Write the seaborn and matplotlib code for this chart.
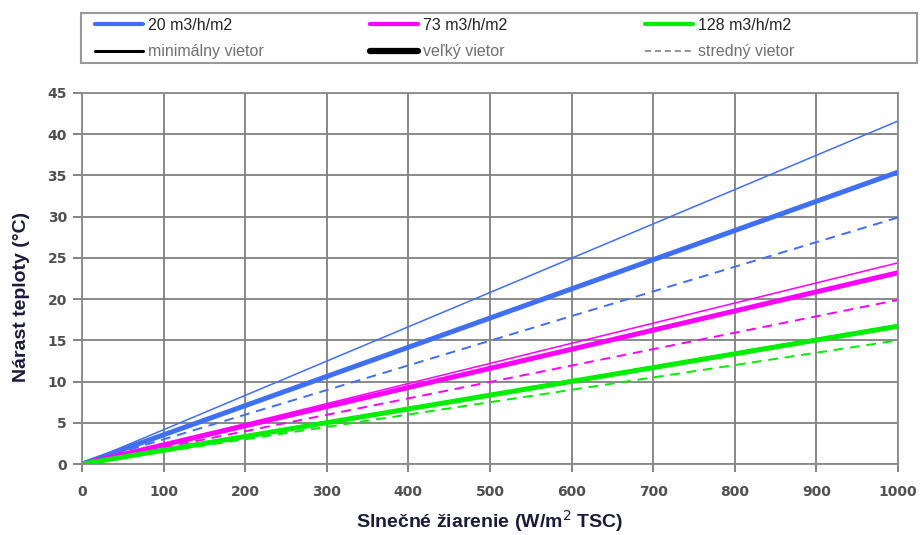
import matplotlib
matplotlib.use('Agg')
import matplotlib.pyplot as plt
from matplotlib.lines import Line2D
from matplotlib.patches import Rectangle
import seaborn as sns
import pandas as pd

sns.set_style('white')
plt.rcParams['font.family'] = ['Liberation Sans', 'DejaVu Sans']

# data (end points of straight lines)
irradiance = [0, 1000]
rates = ['20 m3/h/m2', '73 m3/h/m2', '128 m3/h/m2']
colors = ['#3f6ff2', '#ff00ff', '#00ee00']
min_wind = [41.6, 24.4, 16.9]   # minimálny vietor (thin)
big_wind = [35.4, 23.2, 16.7]   # veľký vietor (thick)
mid_wind = [29.9, 19.9, 15.0]   # stredný vietor (dashed)
wind_labels = ['minimálny vietor', 'veľký vietor', 'stredný vietor']

fig = plt.figure(figsize=(9.21, 5.35), dpi=100)
ax = fig.add_axes([0.089, 0.1327, 0.886, 0.6935])

for i, r in enumerate(rates):
    df = pd.DataFrame({'x': irradiance,
                       'min': [0, min_wind[i]],
                       'big': [0, big_wind[i]],
                       'mid': [0, mid_wind[i]]})
    sns.lineplot(data=df, x='x', y='mid', ax=ax, color=colors[i], lw=1.4,
                 linestyle=(0, (5, 3.5)))
    sns.lineplot(data=df, x='x', y='min', ax=ax, color=colors[i], lw=1.1)
    sns.lineplot(data=df, x='x', y='big', ax=ax, color=colors[i], lw=3.6)

ax.set_xlim(0, 1000)
ax.set_ylim(0, 45)
ax.set_xticks(range(0, 1001, 100))
ax.set_yticks(range(0, 46, 5))
ax.grid(True, color='#808080', lw=1.3)
ax.set_axisbelow(True)
for s in ax.spines.values():
    s.set_color('#8a8a8a')
    s.set_linewidth(1.3)
ax.tick_params(axis='both', direction='out', width=1.3, color='#7a7a7a',
               labelcolor='#505050', left=True, bottom=True)
ax.tick_params(axis='y', length=6.5, pad=4.3)
ax.tick_params(axis='x', length=6, pad=9)
for t in ax.get_xticklabels() + ax.get_yticklabels():
    t.set_fontfamily('DejaVu Sans')
    t.set_fontweight('bold')
    t.set_fontsize(10)

ax.set_xlabel('Slnečné žiarenie (W/m$^2$ TSC)', fontsize=14, fontweight='bold',
              color='#1a1a3a', labelpad=7)
ax.set_ylabel('Nárast teploty (°C)', fontsize=14, fontweight='bold',
              color='#1a1a3a')
ax.yaxis.set_label_coords(-0.064, 0.45)

# legend: three columns of two entries, inside one grey box
handles = [
    [Line2D([], [], color=colors[0], lw=3), Line2D([], [], color='black', lw=2.2)],
    [Line2D([], [], color=colors[1], lw=3), Line2D([], [], color='black', lw=4.5)],
    [Line2D([], [], color=colors[2], lw=3),
     Line2D([], [], color='#777777', lw=1.1, linestyle=(0, (4, 2.5)))],
]
col_x = [95 / 921, 370 / 921, 645 / 921]
for k in range(3):
    leg = fig.legend(handles[k], [rates[k], wind_labels[k]], loc='upper left',
                     bbox_to_anchor=(col_x[k], 1 - 18 / 535), frameon=False,
                     fontsize=11.5, handlelength=3.0, handletextpad=0.3,
                     labelspacing=0.7, borderpad=0, borderaxespad=0)
    texts = leg.get_texts()
    texts[0].set_color('#222222')
    texts[1].set_color('#707070')

fig.patches.append(Rectangle((81 / 921, 1 - 63 / 535), 836 / 921, 50 / 535,
                             transform=fig.transFigure, fill=False,
                             edgecolor='#999999', lw=1.5))

fig.savefig('out.png', dpi=100)
